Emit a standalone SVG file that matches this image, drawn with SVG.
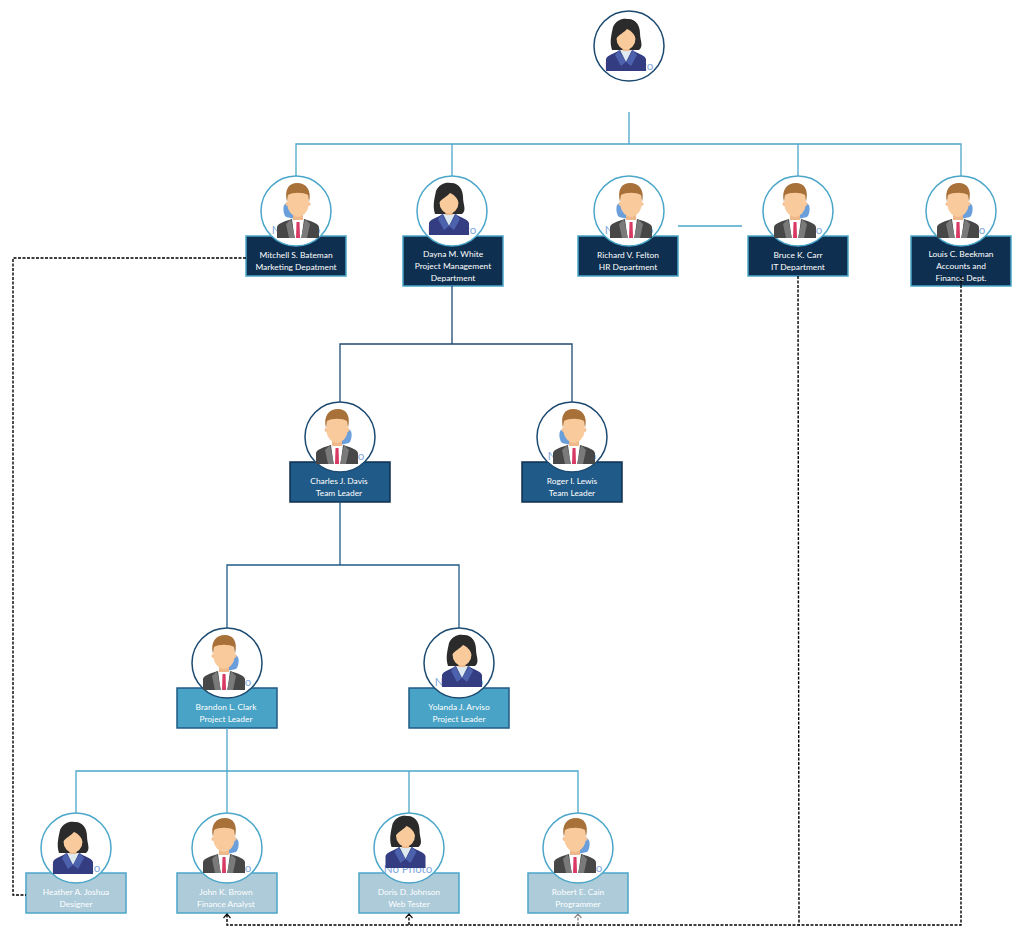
<svg xmlns="http://www.w3.org/2000/svg" width="1024" height="939" viewBox="0 0 1024 939">
<style>
.c{fill:#fff;stroke-width:1.5}
.b{stroke-width:1.5}
.lt{stroke:#4ba6c9}
.dk{stroke:#1c4a70}
.l1{fill:#0e2f4f;stroke:#4ba6c9}
.l2{fill:#1f5a88;stroke:#0f2f4f}
.l3{fill:#48a3c6;stroke:#1f5a85}
.l4{fill:#adcbd9;stroke:#4ba6c9}
text{font-family:"Lato","Liberation Sans",sans-serif;font-size:8.4px;fill:#fff;text-anchor:middle}
text.np{font-size:11.5px;fill:#7fa8dd}
.sol{fill:none;stroke-width:1.3}
.das{fill:none;stroke:#000;stroke-width:1.4;stroke-dasharray:3 1.5}
</style>
<defs>
<g id="man">
<path d="M4,-9 C9,-10 14,-8 14.500,-4 C15,0 14,4 12,6 L3,8 Z" fill="#6a9fdc"/>
<path d="M-21,27 L-21,16 C-20,12 -12,10 -6,8 L6,8 C12,10 20,12 21,16 L21,27 Z" fill="#474747"/>
<path d="M-6,8 L6,8 L3.500,27 L-3.500,27 Z" fill="#fff"/>
<path d="M-7,8 L-3,27 L-9,27 L-12,13 Z M7,8 L3,27 L9,27 L12,13 Z" fill="#7a7a7a"/>
<path d="M-1.500,11 L1.500,11 L2,27 L-2,27 Z" fill="#d93a63"/>
<rect x="-5" y="1" width="10" height="8" fill="#eeb88a"/>
<circle cx="-10.500" cy="-7" r="2" fill="#f3c094"/><circle cx="10.500" cy="-7" r="2" fill="#f3c094"/>
<path d="M-10.500,-18 C-5,-20 5,-20 10.500,-18 L10.500,-6 C10.500,1 4,6 0,6 C-4,6 -10.500,1 -10.500,-6 Z" fill="#f9cb9c"/>
<path d="M-11,-9 C-14,-21 -8,-28 1,-28 C9,-28 14,-22 11,-9 L10,-16 C5,-19 -5,-19 -10,-16 Z" fill="#a8713a"/>
</g>
<g id="woman">
<path d="M-14,3 C-17,-6 -14,-14 -13,-20 C-10,-27 -3,-29 1,-28 C9,-29 14,-22 14,-14 C14,-6 18,-1 13,3 Z" fill="#2b2b2b"/>
<path d="M-20,24 L-20,12 C-19,8 -12,7 -6,3 L6,3 C12,7 19,8 20,12 L20,24 Z" fill="#343c82"/>
<path d="M-6,3 L0,15 L6,3 Z" fill="#dfeaf0"/>
<path d="M-7,3 L0,15 L-5,19 L-11,8 Z M7,3 L0,15 L5,19 L11,8 Z" fill="#4d62ad"/>
<rect x="-3.500" y="-2" width="7" height="6" fill="#eeb88a"/>
<ellipse cx="0" cy="-8.500" rx="9.500" ry="11" fill="#f9cb9c"/>
<path d="M-10,-8 C-11,-20 -4,-22 1,-22 C6,-22 11,-18 10,-8 C8,-14 4,-17 1,-18 C-2,-14 -7,-13 -10,-8 Z" fill="#2b2b2b"/>
</g>
</defs>

<g id="node-top"><circle class="c dk" cx="629" cy="46" r="35"/><text class="np" x="629" y="70">No Photo</text><use href="#woman" transform="translate(626,47)"/></g>

<g id="node-mitchell"><rect class="b l1" x="246" y="236" width="100" height="40"/><circle class="c lt" cx="296" cy="211" r="35"/><text class="np" x="296" y="234">No Photo</text><use href="#man" transform="translate(298,211) scale(-1,1)"/><text x="296" y="258">Mitchell S. Bateman</text><text x="296" y="270">Marketing Depatment</text></g>

<g id="node-dayna"><rect class="b l1" x="403" y="236" width="100" height="50"/><circle class="c lt" cx="452" cy="211" r="35"/><text class="np" x="452" y="234">No Photo</text><use href="#woman" transform="translate(449,211)"/><text x="453" y="257">Dayna M. White</text><text x="453" y="269">Project Management</text><text x="453" y="281">Department</text></g>

<g id="node-richard"><rect class="b l1" x="578" y="236" width="100" height="40"/><circle class="c lt" cx="629" cy="211" r="35"/><text class="np" x="629" y="234">No Photo</text><use href="#man" transform="translate(631,211) scale(-1,1)"/><text x="628" y="258">Richard V. Felton</text><text x="628" y="270">HR Department</text></g>

<g id="node-bruce"><rect class="b l1" x="748" y="236" width="100" height="40"/><circle class="c lt" cx="798" cy="211" r="35"/><text class="np" x="798" y="234">No Photo</text><use href="#man" transform="translate(795,211)"/><text x="798" y="258">Bruce K. Carr</text><text x="798" y="270">IT Department</text></g>

<g id="node-louis"><rect class="b l1" x="911" y="236" width="100" height="50"/><circle class="c lt" cx="961" cy="211" r="35"/><text class="np" x="961" y="234">No Photo</text><use href="#man" transform="translate(958,211)"/><text x="961" y="257">Louis C. Beekman</text><text x="961" y="269">Accounts and</text><text x="961" y="281">Finance Dept.</text></g>

<g id="node-charles"><rect class="b l2" x="290" y="462" width="100" height="40"/><circle class="c dk" cx="340" cy="437" r="35"/><text class="np" x="340" y="460">No Photo</text><use href="#man" transform="translate(337,437)"/><text x="339" y="484">Charles J. Davis</text><text x="339" y="496">Team Leader</text></g>

<g id="node-roger"><rect class="b l2" x="522" y="462" width="100" height="40"/><circle class="c dk" cx="572" cy="437" r="35"/><text class="np" x="572" y="460">No Photo</text><use href="#man" transform="translate(574,437) scale(-1,1)"/><text x="572" y="484">Roger I. Lewis</text><text x="572" y="496">Team Leader</text></g>

<g id="node-brandon"><rect class="b l3" x="177" y="688" width="100" height="40"/><circle class="c dk" cx="227" cy="663" r="35"/><text class="np" x="227" y="686">No Photo</text><use href="#man" transform="translate(224,663)"/><text x="226" y="710">Brandon L. Clark</text><text x="226" y="722">Project Leader</text></g>

<g id="node-yolanda"><rect class="b l3" x="409" y="688" width="100" height="40"/><circle class="c dk" cx="459" cy="663" r="35"/><text class="np" x="459" y="686">No Photo</text><use href="#woman" transform="translate(462,663)"/><text x="459" y="710">Yolanda J. Arviso</text><text x="459" y="722">Project Leader</text></g>

<g id="node-heather"><rect class="b l4" x="26" y="873" width="100" height="40"/><circle class="c lt" cx="76" cy="848" r="35"/><text class="np" x="76" y="872">No Photo</text><use href="#woman" transform="translate(73,850)"/><text x="76" y="895">Heather A. Joshua</text><text x="76" y="907">Designer</text></g>

<g id="node-john"><rect class="b l4" x="177" y="873" width="100" height="40"/><circle class="c lt" cx="227" cy="848" r="35"/><text class="np" x="227" y="872">No Photo</text><use href="#man" transform="translate(224,846)"/><text x="226" y="895">John K. Brown</text><text x="226" y="907">Finance Analyst</text></g>

<g id="node-doris"><rect class="b l4" x="359" y="873" width="100" height="40"/><circle class="c lt" cx="409" cy="848" r="35"/><text class="np" x="408" y="873">No Photo</text><use href="#woman" transform="translate(405.500,844)"/><text x="409" y="895">Doris D. Johnson</text><text x="409" y="907">Web Tester</text></g>

<g id="node-robert"><rect class="b l4" x="528" y="873" width="100" height="40"/><circle class="c lt" cx="578" cy="848" r="35"/><text class="np" x="578" y="872">No Photo</text><use href="#man" transform="translate(575,846)"/><text x="578" y="895">Robert E. Cain</text><text x="578" y="907">Programmer</text></g>

<g id="connectors">
<path class="sol lt" d="M629,112 V144 M296,176 V144 H961 V176 M452,144 V176 M798,144 V176 M678,226 H742"/>
<path class="sol dk" d="M452,286 V344 M340,402 V344 H572 V402"/>
<path class="sol" stroke="#1f5a85" d="M340,502 V565 M227,628 V565 H459 V628"/>
<path class="sol lt" d="M227,728 V771 M76,813 V771 H578 V813 M227,771 V813 M409,771 V813"/>
<path class="das" d="M246,258 H13 V895 H26"/>
<path class="das" d="M798,276 L799,925 H227 V915"/>
<path class="das" d="M961,276 V925 H799"/>
<path class="das" d="M409,925 V915"/>
<path class="das" style="stroke:#888" d="M578,925 V915"/>
<path d="M223.500,918 L227,914 L230.500,918 M405.500,918 L409,914 L412.500,918" fill="none" stroke="#111" stroke-width="1.200"/>
<path d="M574.500,918 L578,914 L581.500,918" fill="none" stroke="#888" stroke-width="1.200"/>
</g>
</svg>
